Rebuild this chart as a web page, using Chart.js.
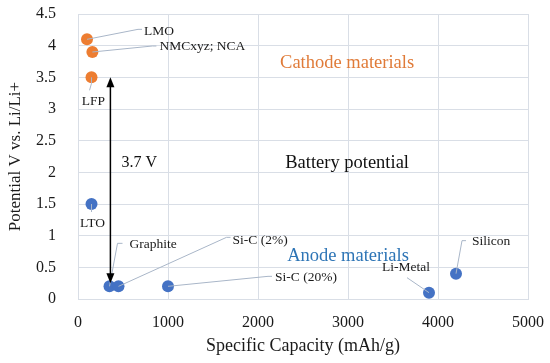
<!DOCTYPE html>
<html>
<head>
<meta charset="utf-8">
<script src="https://cdn.jsdelivr.net/npm/chart.js@4/dist/chart.umd.min.js"></script>
<style>
  html, body { margin: 0; padding: 0; background: #fff; }
  #wrap { width: 550px; height: 363px; position: relative; }
</style>
</head>
<body>
<div id="wrap"><canvas id="chart"></canvas></div>
<script>
// Data
const cathodeNames = ['LMO', 'NMCxyz; NCA', 'LFP'];
const cathodeCapacity = [100, 160, 150];
const cathodeVoltage = [4.1, 3.9, 3.5];

const anodeNames = ['LTO', 'Graphite', 'Si-C (2%)', 'Si-C (20%)', 'Li-Metal', 'Silicon'];
const anodeCapacity = [150, 350, 450, 1000, 3900, 4200];
const anodeVoltage = [1.5, 0.2, 0.2, 0.2, 0.1, 0.4];

const xTicks = [0, 1000, 2000, 3000, 4000, 5000];
const yTicks = [0, 0.5, 1, 1.5, 2, 2.5, 3, 3.5, 4, 4.5];

// Label placement (pixel offsets from the point): leader path, text anchor, alignment
const cathodeLabelLayout = [
    { leader: [[51, -10], [55, -10]], text: [57, -8], align: 'left' },
    { leader: [[60, -6], [64, -6]], text: [67, -6], align: 'left' },
    { leader: [[0, 6], [-2, 13]], text: [2, 24], align: 'center' }
];
const anodeLabelLayout = [
    { leader: [[0, 4], [0, 8]], text: [1, 19], align: 'center' },
    { leader: [[8, -43], [13, -43]], text: [20, -42], align: 'left' },
    { leader: [[108, -49], [112, -49]], text: [114, -46], align: 'left' },
    { leader: [[100, -10], [104, -10]], text: [107, -9], align: 'left' },
    { leader: [[-22, -15]], text: [-23, -25], align: 'center' },
    { leader: [[6, -33], [10, -33]], text: [16, -32], align: 'left' }
];

// Free text annotations in data coordinates
const notes = [
    { text: 'Cathode materials', x: 2990, y: 3.73, color: '#E07B39', size: 18.5 },
    { text: 'Battery potential', x: 2990, y: 2.15, color: '#111111', size: 18.5 },
    { text: 'Anode materials', x: 3000, y: 0.68, color: '#2E75B6', size: 18.5 },
    { text: '3.7 V', x: 680, y: 2.15, color: '#111111', size: 16 }
];
const arrowX = 360;
const arrowFrom = 3.5;
const arrowTo = 0.25;

const serif = '"Liberation Serif", "DejaVu Serif", serif';
const gridColor = '#D9DEE6';

function drawHead(ctx, x, y, dir) {
    ctx.beginPath();
    ctx.moveTo(x, y);
    ctx.lineTo(x - 4, y - dir * 10);
    ctx.lineTo(x + 4, y - dir * 10);
    ctx.closePath();
    ctx.fill();
}

const labelPlugin = {
    id: 'labelPlugin',
    afterDatasetsDraw(chart) {
        const ctx = chart.ctx;
        const xs = chart.scales.x;
        const ys = chart.scales.y;
        const layouts = [cathodeLabelLayout, anodeLabelLayout];
        const names = [cathodeNames, anodeNames];
        ctx.save();
        // data labels with leader lines
        chart.data.datasets.forEach((ds, di) => {
            const meta = chart.getDatasetMeta(di);
            meta.data.forEach((pt, i) => {
                const lay = layouts[di][i];
                ctx.strokeStyle = '#A9B6C8';
                ctx.lineWidth = 1;
                ctx.beginPath();
                ctx.moveTo(pt.x, pt.y);
                lay.leader.forEach(p => ctx.lineTo(pt.x + p[0], pt.y + p[1]));
                ctx.stroke();
                ctx.fillStyle = '#1a1a1a';
                ctx.font = '13.5px ' + serif;
                ctx.textAlign = lay.align;
                ctx.textBaseline = 'middle';
                ctx.fillText(names[di][i], pt.x + lay.text[0], pt.y + lay.text[1]);
            });
        });
        // text notes
        notes.forEach(n => {
            ctx.fillStyle = n.color;
            ctx.font = n.size + 'px ' + serif;
            ctx.textAlign = 'center';
            ctx.textBaseline = 'middle';
            ctx.fillText(n.text, xs.getPixelForValue(n.x), ys.getPixelForValue(n.y));
        });
        // double arrow
        const ax = xs.getPixelForValue(arrowX);
        const y1 = ys.getPixelForValue(arrowFrom);
        const y2 = ys.getPixelForValue(arrowTo);
        ctx.strokeStyle = '#000';
        ctx.fillStyle = '#000';
        ctx.lineWidth = 1.5;
        ctx.beginPath();
        ctx.moveTo(ax, y1 + 6);
        ctx.lineTo(ax, y2 - 6);
        ctx.stroke();
        drawHead(ctx, ax, y1, -1);
        drawHead(ctx, ax, y2, 1);
        ctx.restore();
    }
};

new Chart(document.getElementById('chart'), {
    type: 'scatter',
    data: {
        datasets: [
            {
                label: 'Cathode',
                data: cathodeCapacity.map((c, i) => ({ x: c, y: cathodeVoltage[i] })),
                backgroundColor: '#ED7D31',
                borderColor: '#ED7D31',
                borderWidth: 0,
                pointRadius: 6,
                pointHoverRadius: 6
            },
            {
                label: 'Anode',
                data: anodeCapacity.map((c, i) => ({ x: c, y: anodeVoltage[i] })),
                backgroundColor: '#4472C4',
                borderColor: '#4472C4',
                borderWidth: 0,
                pointRadius: 6,
                pointHoverRadius: 6
            }
        ]
    },
    options: {
        responsive: true,
        maintainAspectRatio: false,
        animation: false,
        layout: { padding: { top: 14, right: 22, left: 0, bottom: 0 } },
        plugins: {
            legend: { display: false },
            tooltip: { enabled: false }
        },
        scales: {
            x: {
                type: 'linear',
                min: 0,
                max: 5000,
                afterFit: s => { s.height = 64; s.paddingLeft = 0; s.paddingRight = 0; },
                afterBuildTicks: s => { s.ticks = xTicks.map(v => ({ value: v })); },
                ticks: {
                    padding: 14,
                    color: '#1a1a1a',
                    font: { family: serif, size: 16 },
                    callback: v => String(v)
                },
                grid: { color: gridColor, drawTicks: false },
                border: { color: gridColor },
                title: {
                    display: true,
                    text: 'Specific Capacity (mAh/g)',
                    color: '#1a1a1a',
                    font: { family: serif, size: 18 },
                    padding: { top: 0, bottom: 6 }
                }
            },
            y: {
                type: 'linear',
                min: 0,
                max: 4.5,
                afterFit: s => { s.width = 78; s.paddingTop = 0; s.paddingBottom = 0; },
                afterBuildTicks: s => { s.ticks = yTicks.map(v => ({ value: v })); },
                ticks: {
                    padding: 22,
                    color: '#1a1a1a',
                    font: { family: serif, size: 16 },
                    callback: v => String(v)
                },
                grid: { color: gridColor, drawTicks: false },
                border: { color: gridColor },
                title: {
                    display: true,
                    text: 'Potential V vs. Li/Li+',
                    color: '#1a1a1a',
                    font: { family: serif, size: 17 },
                    padding: { top: 5, bottom: 0 }
                }
            }
        }
    },
    plugins: [labelPlugin]
});
</script>
</body>
</html>
